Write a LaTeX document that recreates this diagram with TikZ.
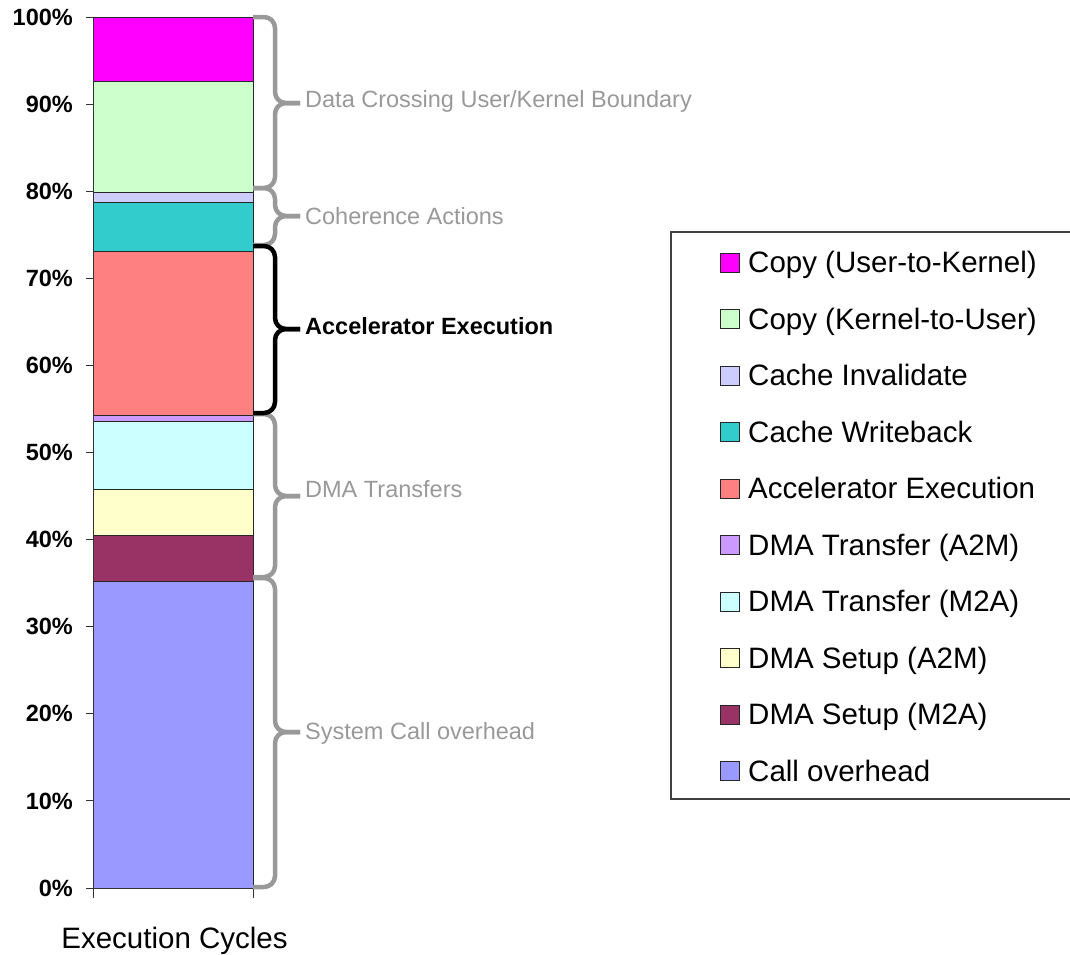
\documentclass[tikz,border=0pt]{standalone}
\usepackage{fontspec}
\setmainfont{Liberation Sans}
\definecolor{cUK}{HTML}{FF00FF}
\definecolor{cKU}{HTML}{CCFFCC}
\definecolor{cInv}{HTML}{CCCCFF}
\definecolor{cWb}{HTML}{33CCCC}
\definecolor{cAcc}{HTML}{FF8080}
\definecolor{cTA}{HTML}{CC99FF}
\definecolor{cTM}{HTML}{CCFFFF}
\definecolor{cSA}{HTML}{FFFFCC}
\definecolor{cSM}{HTML}{993366}
\definecolor{cCall}{HTML}{9999FF}
\definecolor{brgray}{HTML}{999999}
\begin{document}
\begin{tikzpicture}[x=1pt,y=-1pt,
  seg/.style={draw=black!85, line width=1pt},
  axis/.style={draw=black!80, line width=1pt},
  ticklabel/.style={anchor=east, inner sep=0pt, font=\fontsize{23.5}{24}\selectfont\bfseries},
  bracegray/.style={draw=brgray, line width=4.5pt, rounded corners=11pt, line join=round},
  braceblack/.style={bracegray, draw=black},
  grouplabel/.style={anchor=base west, inner sep=0pt, text=brgray, font=\fontsize{23.5}{24}\selectfont},
  legsq/.style={draw=black!85, line width=1pt, minimum size=19pt, inner sep=0pt},
  legtext/.style={anchor=base west, inner sep=0pt, font=\fontsize{29.5}{30}\selectfont},
  legframe/.style={draw=black!75, line width=1.5pt}]
\useasboundingbox (0,0) rectangle (1070,954);

% stacked bar, bottom to top
\draw[seg, fill=cCall] (93,888)   rectangle (253,581);
\draw[seg, fill=cSM]   (93,581)   rectangle (253,535);
\draw[seg, fill=cSA]   (93,535)   rectangle (253,489);
\draw[seg, fill=cTM]   (93,489)   rectangle (253,421);
\draw[seg, fill=cTA]   (93,421)   rectangle (253,415.5);
\draw[seg, fill=cAcc]  (93,415.5) rectangle (253,251);
\draw[seg, fill=cWb]   (93,251)   rectangle (253,202);
\draw[seg, fill=cInv]  (93,202)   rectangle (253,192);
\draw[seg, fill=cKU]   (93,192)   rectangle (253,81.5);
\draw[seg, fill=cUK]   (93,81.5)  rectangle (253,17);

% axes and ticks
\draw[axis] (93,17) -- (93,888) -- (253,888);
\draw[axis] (93,888) -- (93,898);
\draw[axis] (253,888) -- (253,898);
\foreach \k in {0,...,10} {
  \pgfmathtruncatemacro\pc{10*\k}
  \draw[axis] (86,888-87.1*\k) -- (93,888-87.1*\k);
  \node[ticklabel] (tick\k) at (73,888-87.1*\k) {\pc\%};
}
\node[anchor=base, inner sep=0pt, font=\fontsize{29.5}{30}\selectfont] (xlabel) at (174.5,948) {Execution Cycles};

% grouping braces
\foreach \t/\b/\m in {17/188/103, 188/245/216, 414/577/496, 578/887/732} {
  \draw[bracegray] (253,\t) -- (275,\t) -- (275,\m) -- (300,\m);
  \draw[bracegray] (300,\m) -- (275,\m) -- (275,\b) -- (253,\b);
}
\draw[braceblack] (253,246) -- (275,246) -- (275,329) -- (300,329);
\draw[braceblack] (300,329) -- (275,329) -- (275,413) -- (253,413);

\node[grouplabel] (gData) at (305,107) {Data Crossing User/Kernel Boundary};
\node[grouplabel] (gCoh)  at (305,224) {Coherence Actions};
\node[grouplabel, text=black, font=\fontsize{23.5}{24}\selectfont\bfseries] (gAcc) at (305,334) {Accelerator Execution};
\node[grouplabel] (gDMA)  at (305,497) {DMA Transfers};
\node[grouplabel] (gSys)  at (305,739) {System Call overhead};

% legend
\draw[legframe] (671,232) rectangle (1085,799);
\foreach \lab/\col [count=\i from 0] in {
  {Copy (User-to-Kernel)}/cUK, {Copy (Kernel-to-User)}/cKU, {Cache Invalidate}/cInv,
  {Cache Writeback}/cWb, {Accelerator Execution}/cAcc, {DMA Transfer (A2M)}/cTA,
  {DMA Transfer (M2A)}/cTM, {DMA Setup (A2M)}/cSA, {DMA Setup (M2A)}/cSM, {Call overhead}/cCall} {
  \node[legsq, fill=\col] (key\i) at (729.5,262.5+56.5*\i) {};
  \node[legtext] (lab\i) at (748,272.5+56.5*\i) {\lab};
}
\end{tikzpicture}
\end{document}
